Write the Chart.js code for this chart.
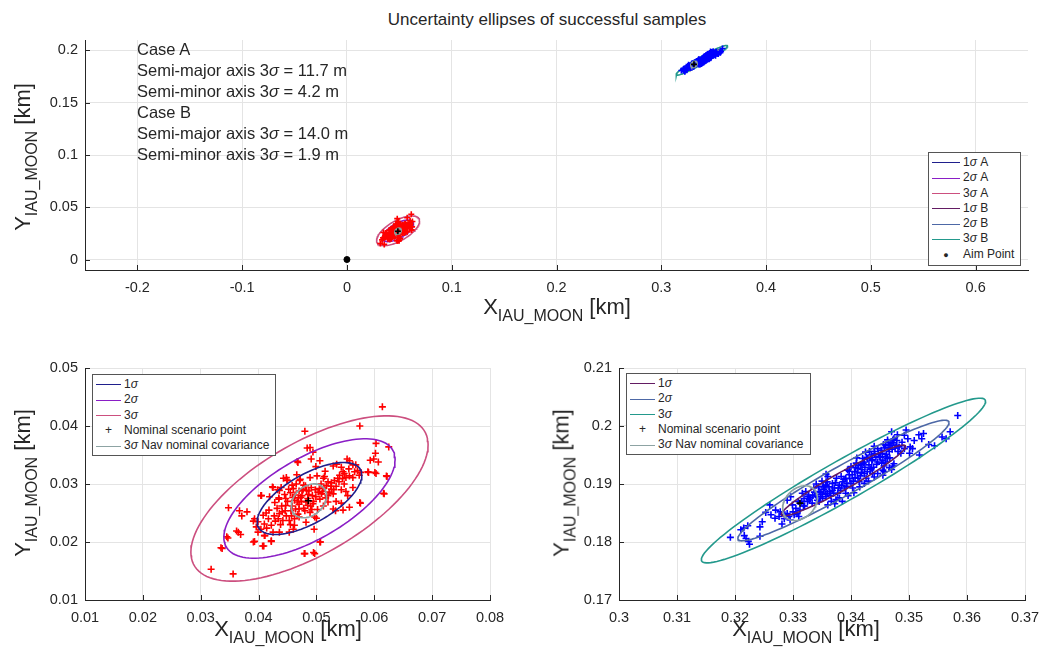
<!DOCTYPE html>
<html>
<head>
<meta charset="utf-8">
<script src="https://cdn.jsdelivr.net/npm/chart.js@4.4.1/dist/chart.umd.min.js"></script>
<style>
  body { margin: 0; background: #fff; font-family: 'Liberation Sans', Arial, sans-serif; color: #262626; }
  #page { position: relative; width: 1053px; height: 655px; overflow: hidden; }
  .box { position: absolute; }
  .title { position: absolute; left: 247px; width: 600px; top: 10px; text-align: center; font-size: 17px; }
  .xlab, .ylab { position: absolute; font-size: 22px; white-space: nowrap; line-height: 24px; }
  .xlab sub, .ylab sub { font-size: 16px; vertical-align: -7px; }
  .xlab { transform: translateX(-50%); }
  .ylab { transform: translate(-50%, -50%) rotate(-90deg); }
  .cases { position: absolute; left: 137px; top: 39px; font-size: 16.5px; line-height: 21px; }
  .legend { position: absolute; background: #fff; border: 1px solid #555; font-size: 12px; line-height: 15.3px; padding: 2px 4px 2px 3px; }
  .legend .row { white-space: nowrap; }
  .legend .sw { display: inline-block; vertical-align: middle; height: 0; border-top: 1.6px solid; margin-right: 3px; }
  .legend .mk { display: inline-block; text-align: center; margin-right: 3px; }
</style>
</head>
<body>
<div id="page">
  <div class="title">Uncertainty ellipses of successful samples</div>

  <div class="box" style="left:0;top:0;width:1053px;height:300px"><canvas id="top-chart"></canvas></div>
  <div class="box" style="left:0;top:340px;width:520px;height:315px"><canvas id="left-chart"></canvas></div>
  <div class="box" style="left:530px;top:340px;width:523px;height:315px"><canvas id="right-chart"></canvas></div>

  <div class="cases" id="cases"></div>

  <div class="xlab" style="left:557px;top:295px">X<sub>IAU_MOON</sub> [km]</div>
  <div class="ylab" style="left:27px;top:157px">Y<sub>IAU_MOON</sub> [km]</div>
  <div class="xlab" style="left:288px;top:617px">X<sub>IAU_MOON</sub> [km]</div>
  <div class="ylab" style="left:27px;top:483px">Y<sub>IAU_MOON</sub> [km]</div>
  <div class="xlab" style="left:806px;top:617px">X<sub>IAU_MOON</sub> [km]</div>
  <div class="ylab" style="left:566px;top:483px">Y<sub>IAU_MOON</sub> [km]</div>

  <div class="legend" id="legend-top" style="left:928px;top:152px;width:84px"></div>
  <div class="legend" id="legend-left" style="left:92px;top:374px;width:175px"></div>
  <div class="legend" id="legend-right" style="left:626px;top:373px;width:176px"></div>
</div>

<script>
// --- data ---

// case A (red samples)
const samplesA = [
  [0.0614,0.0433],[0.0575,0.0400],[0.0480,0.0391],[0.0603,0.0370],[0.0625,0.0364],[0.0484,0.0362],
  [0.0494,0.0355],[0.0491,0.0343],[0.0506,0.0340],[0.0499,0.0330],[0.0602,0.0353],[0.0607,0.0338],
  [0.0593,0.0341],[0.0599,0.0343],[0.0553,0.0343],[0.0557,0.0340],[0.0535,0.0334],[0.0529,0.0331],
  [0.0543,0.0329],[0.0546,0.0321],[0.0563,0.0333],[0.0571,0.0323],[0.0577,0.0320],[0.0574,0.0315],
  [0.0590,0.0320],[0.0603,0.0318],[0.0622,0.0313],[0.0551,0.0311],[0.0557,0.0314],[0.0563,0.0311],
  [0.0545,0.0309],[0.0539,0.0304],[0.0531,0.0306],[0.0526,0.0302],[0.0520,0.0304],[0.0517,0.0297],
  [0.0513,0.0293],[0.0526,0.0291],[0.0534,0.0296],[0.0543,0.0290],[0.0551,0.0287],[0.0554,0.0280],
  [0.0563,0.0294],[0.0471,0.0306],[0.0489,0.0311],[0.0501,0.0314],[0.0477,0.0291],[0.0483,0.0289],
  [0.0491,0.0294],[0.0503,0.0286],[0.0509,0.0283],[0.0520,0.0280],[0.0529,0.0283],[0.0534,0.0270],
  [0.0543,0.0267],[0.0557,0.0260],[0.0474,0.0270],[0.0482,0.0269],[0.0494,0.0266],[0.0506,0.0274],
  [0.0520,0.0269],[0.0529,0.0257],[0.0533,0.0254],[0.0546,0.0255],[0.0576,0.0267],[0.0617,0.0283],
  [0.0480,0.0254],[0.0489,0.0251],[0.0497,0.0243],[0.0500,0.0241],[0.0482,0.0234],[0.0496,0.0222],
  [0.0507,0.0200],[0.0480,0.0180],[0.0497,0.0180],
  [0.0468,0.0337],[0.0449,0.0307],[0.0425,0.0294],[0.0436,0.0289],[0.0405,0.0280],[0.0419,0.0278],
  [0.0435,0.0274],[0.0447,0.0263],[0.0456,0.0254],[0.0446,0.0254],[0.0436,0.0249],[0.0434,0.0240],
  [0.0442,0.0237],[0.0453,0.0237],[0.0462,0.0240],[0.0470,0.0243],[0.0393,0.0240],[0.0399,0.0235],
  [0.0410,0.0231],[0.0414,0.0224],[0.0425,0.0217],[0.0436,0.0217],[0.0422,0.0229],[0.0399,0.0217],
  [0.0410,0.0211],[0.0396,0.0226],[0.0393,0.0201],[0.0409,0.0193],[0.0422,0.0201],[0.0453,0.0217],
  [0.0462,0.0229],[0.0470,0.0257],[0.0467,0.0269],[0.0459,0.0277],[0.0473,0.0277],[0.0380,0.0252],
  [0.0367,0.0254],[0.0371,0.0245],[0.0348,0.0259],[0.0365,0.0217],[0.0369,0.0213],[0.0347,0.0207],
  [0.0337,0.0189],[0.0318,0.0153],[0.0356,0.0145],
  [0.0489,0.0363],[0.0467,0.0339],[0.0589,0.0321],[0.0601,0.0320],[0.0621,0.0314],[0.0616,0.0284],
  [0.0575,0.0268],[0.0404,0.0280],[0.0391,0.0236],[0.0362,0.0219],[0.0345,0.0209],[0.0391,0.0200],
  [0.0407,0.0193],[0.0422,0.0202],[0.0411,0.0211],[0.0335,0.0190],[0.0479,0.0180],[0.0495,0.0182],
  [0.0506,0.0200],[0.0443,0.0310],[0.0448,0.0311],[0.0450,0.0306],[0.0439,0.0294],[0.0433,0.0290],
  [0.0424,0.0295],[0.0435,0.0276],
  [0.0455,0.0285],[0.0460,0.0292],[0.0465,0.0300],[0.0470,0.0288],[0.0475,0.0280],[0.0462,0.0272],
  [0.0470,0.0265],[0.0478,0.0258],[0.0468,0.0248],[0.0458,0.0262],[0.0450,0.0270],[0.0485,0.0275],
  [0.0490,0.0262],[0.0495,0.0270],[0.0486,0.0282],[0.0478,0.0298],[0.0472,0.0308],[0.0466,0.0316],
  [0.0445,0.0282],[0.0440,0.0262],[0.0432,0.0258],[0.0428,0.0268],[0.0438,0.0230],[0.0448,0.0245],
  [0.0455,0.0230],[0.0460,0.0222],[0.0512,0.0310],[0.0515,0.0322],[0.0508,0.0300],[0.0498,0.0290],
  [0.0540,0.0315],[0.0548,0.0300],[0.0530,0.0290],[0.0512,0.0262],[0.0502,0.0256],[0.0418,0.0255],
  [0.0408,0.0246],[0.0427,0.0245],
  [0.0452,0.0291],[0.0458,0.0298],[0.0463,0.0281],[0.0469,0.0276],[0.0476,0.0289],[0.0481,0.0297],
  [0.0487,0.0288],[0.0493,0.0280],[0.0499,0.0278],[0.0505,0.0292],[0.0511,0.0287],[0.0516,0.0276],
  [0.0522,0.0286],[0.0525,0.0296],[0.0537,0.0310],[0.0548,0.0318],[0.0556,0.0326],[0.0566,0.0321],
  [0.0568,0.0333],[0.0514,0.0313],[0.0447,0.0275],[0.0441,0.0252],[0.0429,0.0236],[0.0417,0.0240],
  [0.0404,0.0222],[0.0413,0.0250],[0.0457,0.0245],[0.0464,0.0257],[0.0485,0.0263],[0.0492,0.0256],
];

// case B (blue samples)
const samplesB = [
  [0.3584,0.2018],[0.3571,0.1990],[0.3557,0.1981],[0.3564,0.1978],[0.3544,0.1966],[0.3534,0.1968],
  [0.3525,0.1987],[0.3517,0.1985],[0.3522,0.1978],[0.3495,0.1993],[0.3492,0.1984],[0.3498,0.1978],
  [0.3509,0.1975],[0.3518,0.1950],[0.3501,0.1953],[0.3506,0.1961],[0.3502,0.1964],[0.3472,0.1931],
  [0.3474,0.1935],[0.3457,0.1921],[0.3446,0.1918],[0.3455,0.1924],
  [0.3192,0.1808],[0.3210,0.1821],[0.3215,0.1824],[0.3222,0.1828],[0.3216,0.1811],[0.3219,0.1806],
  [0.3223,0.1801],[0.3225,0.1796],[0.3243,0.1810],[0.3243,0.1826],[0.3247,0.1835],[0.3260,0.1864],
  [0.3253,0.1851],[0.3262,0.1847],[0.3269,0.1841],[0.3276,0.1844],[0.3281,0.1831],[0.3270,0.1855],
  [0.3286,0.1847],[0.3290,0.1849],[0.3293,0.1844],[0.3299,0.1864],[0.3305,0.1858],[0.3307,0.1849],
  [0.3302,0.1847],[0.3310,0.1844],[0.3290,0.1872],[0.3296,0.1878],[0.3316,0.1884],[0.3322,0.1887],
  [0.3327,0.1881],[0.3336,0.1893],[0.3339,0.1881],[0.3319,0.1875],[0.3325,0.1870],[0.3333,0.1867],
  [0.3342,0.1872],[0.3347,0.1878],[0.3345,0.1887],[0.3353,0.1890],[0.3356,0.1898],[0.3359,0.1884],
  [0.3351,0.1875],[0.3357,0.1917],[0.3359,0.1904],
  [0.3374,0.1873],[0.3366,0.1870],[0.3360,0.1864],[0.3357,0.1878],[0.3363,0.1887],[0.3371,0.1893],
  [0.3380,0.1898],[0.3386,0.1904],[0.3391,0.1910],[0.3397,0.1916],[0.3406,0.1921],[0.3412,0.1927],
  [0.3417,0.1933],[0.3423,0.1938],[0.3429,0.1944],[0.3435,0.1950],[0.3440,0.1956],[0.3446,0.1938],
  [0.3435,0.1927],[0.3423,0.1918],[0.3412,0.1910],[0.3400,0.1901],[0.3389,0.1893],[0.3377,0.1884],
  [0.3368,0.1901],[0.3383,0.1913],[0.3394,0.1924],[0.3409,0.1936],[0.3420,0.1944],[0.3432,0.1956],
  [0.3380,0.1876],[0.3391,0.1884],[0.3403,0.1893],[0.3414,0.1904],[0.3426,0.1910],[0.3437,0.1918],
  [0.3423,0.1901],[0.3460,0.1938],[0.3463,0.1944],[0.3455,0.1941],[0.3449,0.1947],[0.3446,0.1961],
  [0.3452,0.1958],[0.3466,0.1956],[0.3460,0.1967],[0.3469,0.1970],[0.3463,0.1976],[0.3472,0.1976],
  [0.3478,0.1967],[0.3474,0.1978],[0.3483,0.1964],[0.3492,0.1961],[0.3486,0.1953],[0.3481,0.1956],
  [0.3457,0.1931],[0.3466,0.1928],[0.3357,0.1904],[0.3354,0.1893],[0.3360,0.1913],
  [0.3312,0.1855],[0.3320,0.1862],[0.3330,0.1876],[0.3345,0.1870],[0.3350,0.1882],[0.3365,0.1880],
  [0.3372,0.1866],[0.3385,0.1870],[0.3395,0.1880],[0.3405,0.1885],[0.3415,0.1895],[0.3430,0.1905],
  [0.3440,0.1912],[0.3455,0.1915],[0.3470,0.1925],[0.3300,0.1852],[0.3285,0.1840],[0.3295,0.1838],
  [0.3278,0.1852],[0.3315,0.1870],[0.3340,0.1900],[0.3350,0.1905],[0.3375,0.1910],[0.3400,0.1930],
  [0.3410,0.1945],[0.3425,0.1955],[0.3440,0.1965],[0.3480,0.1985],[0.3470,0.1990],[0.3488,0.1972],
  [0.3328,0.1873],[0.3334,0.1880],[0.3341,0.1878],[0.3348,0.1886],[0.3352,0.1896],[0.3362,0.1895],
  [0.3368,0.1889],[0.3373,0.1902],[0.3378,0.1893],[0.3384,0.1897],[0.3388,0.1908],[0.3393,0.1901],
  [0.3398,0.1909],[0.3402,0.1916],[0.3407,0.1911],[0.3411,0.1919],[0.3416,0.1914],[0.3419,0.1925],
  [0.3424,0.1929],[0.3428,0.1921],[0.3431,0.1933],[0.3436,0.1940],[0.3439,0.1929],[0.3443,0.1946],
  [0.3447,0.1952],[0.3451,0.1946],[0.3454,0.1953],[0.3458,0.1962],[0.3461,0.1951],[0.3464,0.1963],
  [0.3467,0.1967],[0.3471,0.1960],[0.3473,0.1971],[0.3476,0.1962],[0.3479,0.1975],[0.3467,0.1945],
  [0.3459,0.1947],[0.3444,0.1934],[0.3433,0.1925],[0.3418,0.1920],[0.3404,0.1905],[0.3392,0.1896],
  [0.3382,0.1889],[0.3370,0.1884],[0.3356,0.1883],[0.3344,0.1895],[0.3337,0.1886],[0.3326,0.1878],
  [0.3318,0.1862],[0.3309,0.1870],[0.3397,0.1922],[0.3413,0.1932],[0.3427,0.1946],[0.3441,0.1952],
  [0.3453,0.1936],[0.3437,0.1942],[0.3421,0.1936],[0.3408,0.1928],[0.3465,0.1972],[0.3456,0.1968],
];

const nominalA = [0.0486, 0.0271];
const nominalB = [0.3312, 0.1867];
const aimPoint = [0, 0];

// uncertainty ellipses: centre, half extent along x and y, x-y correlation
const sigmaLabels = ['1σ', '2σ', '3σ'];
const ellipseCenterA = [0.0488, 0.0275];
const ellipseHalfXA = [0.00905, 0.0148, 0.0205];
const ellipseHalfYA = [0.0062, 0.0103, 0.01425];
const ellipseRhoA = 0.65;
const ellipseCenterB = [0.3387, 0.1906];
const ellipseHalfXB = [0.0107, 0.0182, 0.0245];
const ellipseHalfYB = [0.0061, 0.0104, 0.0142];
const ellipseRhoB = 0.96;

// 3 sigma nav nominal covariance
const navCenterA = [0.0487, 0.0271];
const navHalfA = [0.00305, 0.00292];
const navCenterB = [0.3312, 0.1867];
const navHalfB = [0.0030, 0.0030];
const navRho = 0.3;

// text box numbers
const caseNames = ['Case A', 'Case B'];
const semiMajor3s = [11.7, 14.0];
const semiMinor3s = [4.2, 1.9];

// axes
const topXTicks = [-0.2, -0.1, 0, 0.1, 0.2, 0.3, 0.4, 0.5, 0.6];
const topYTicks = [0, 0.05, 0.1, 0.15, 0.2];
const leftXTicks = [0.01, 0.02, 0.03, 0.04, 0.05, 0.06, 0.07, 0.08];
const leftYTicks = [0.01, 0.02, 0.03, 0.04, 0.05];
const rightXTicks = [0.3, 0.31, 0.32, 0.33, 0.34, 0.35, 0.36, 0.37];
const rightYTicks = [0.17, 0.18, 0.19, 0.2, 0.21];

// --- styles ---
const TXT = '#262626';
const colorsA = ['#1f1f8c', '#8a1ec6', '#cc4f7f'];
const colorsB = ['#631c63', '#4d68a6', '#23998c'];
const navColor = '#8da3a3';
const FONT = "'Liberation Sans', Arial, sans-serif";

const pts = arr => arr.map(([x, y]) => ({ x, y }));

function ellipse(c, hx, hy, rho) {
  const out = [];
  const k = Math.sqrt(1 - rho * rho);
  for (let i = 0; i <= 120; i++) {
    const t = (i / 120) * 2 * Math.PI;
    out.push({ x: c[0] + hx * Math.cos(t), y: c[1] + hy * (rho * Math.cos(t) + k * Math.sin(t)) });
  }
  return out;
}

const line = (data, color) => ({
  data, borderColor: color, showLine: true, pointRadius: 0, borderWidth: 1.6, fill: false,
});
const marks = (data, color, r) => ({
  data, pointStyle: 'cross', pointRadius: r, borderColor: color, borderWidth: 1.6, showLine: false,
});

const ellA = sigmaLabels.map((s, i) => line(ellipse(ellipseCenterA, ellipseHalfXA[i], ellipseHalfYA[i], ellipseRhoA), colorsA[i]));
const ellB = sigmaLabels.map((s, i) => line(ellipse(ellipseCenterB, ellipseHalfXB[i], ellipseHalfYB[i], ellipseRhoB), colorsB[i]));
const navA = () => line(ellipse(navCenterA, navHalfA[0], navHalfA[1], navRho), navColor);
const navB = () => line(ellipse(navCenterB, navHalfB[0], navHalfB[1], navRho), navColor);

// ticks pointing into the plot, like the original
const inwardTicks = {
  id: 'inwardTicks',
  afterDatasetsDraw(chart) {
    const { ctx, chartArea: a, scales: { x, y } } = chart;
    ctx.save();
    ctx.strokeStyle = TXT;
    ctx.lineWidth = 1;
    ctx.beginPath();
    x.ticks.forEach(t => {
      const p = Math.round(x.getPixelForValue(t.value)) + 0.5;
      ctx.moveTo(p, a.bottom); ctx.lineTo(p, a.bottom - 5);
    });
    y.ticks.forEach(t => {
      const p = Math.round(y.getPixelForValue(t.value)) + 0.5;
      ctx.moveTo(a.left, p); ctx.lineTo(a.left + 5, p);
    });
    ctx.stroke();
    ctx.restore();
  },
};

function axis(min, max, ticks, fitSize, horizontal) {
  return {
    type: 'linear', min, max,
    afterBuildTicks: s => { s.ticks = ticks.map(v => ({ value: v })); },
    afterFit: s => { if (horizontal) s.height = fitSize; else s.width = fitSize; },
    grid: { color: '#e4e4e4', lineWidth: 1, drawTicks: false },
    border: { display: true, color: TXT, width: 1 },
    ticks: {
      color: TXT, font: { family: FONT, size: 14.5 }, padding: horizontal ? 9 : 7,
      callback: v => String(+v.toFixed(4)),
    },
  };
}

function makeChart(id, datasets, xs, ys, padding) {
  return new Chart(document.getElementById(id), {
    type: 'scatter',
    data: { datasets },
    options: {
      responsive: true, maintainAspectRatio: false, animation: false,
      layout: { padding },
      plugins: { legend: { display: false }, tooltip: { enabled: false } },
      scales: { x: xs, y: ys },
    },
    plugins: [inwardTicks],
  });
}

// top overview
makeChart('top-chart', [
  marks(pts([nominalA, nominalB]), '#000', 3),
  navA(), navB(),
  { data: pts([aimPoint]), pointStyle: 'circle', pointRadius: 3, backgroundColor: '#000', borderColor: '#000' },
  marks(pts(samplesA), '#ff0000', 3),
  marks(pts(samplesB), '#0000ff', 3),
  ...ellA, ...ellB,
], axis(-0.25, 0.65, topXTicks, 30, true), axis(-0.01, 0.21, topYTicks, 85, false),
{ top: 40, right: 25, left: 0, bottom: 0 });

// case A zoom
makeChart('left-chart', [
  marks(pts([nominalA]), '#000', 3.5),
  navA(), ...ellA,
  marks(pts(samplesA), '#ff0000', 3.5),
], axis(0.01, 0.08, leftXTicks, 55, true), axis(0.01, 0.05, leftYTicks, 85, false),
{ top: 28, right: 30, left: 0, bottom: 0 });

// case B zoom
makeChart('right-chart', [
  marks(pts([nominalB]), '#000', 3.5),
  navB(), ...ellB,
  marks(pts(samplesB), '#0000ff', 3.5),
], axis(0.3, 0.37, rightXTicks, 55, true), axis(0.17, 0.21, rightYTicks, 89, false),
{ top: 28, right: 28, left: 0, bottom: 0 });

// text box
const sig = s => s.replace('σ', '<i>σ</i>');
document.getElementById('cases').innerHTML = caseNames.map((n, i) =>
  `<div>${n}</div><div>Semi-major axis 3<i>σ</i> = ${semiMajor3s[i].toFixed(1)} m</div>` +
  `<div>Semi-minor axis 3<i>σ</i> = ${semiMinor3s[i].toFixed(1)} m</div>`).join('');

// legends
const swatch = (c, w) => `<span class="sw" style="width:${w}px;border-color:${c}"></span>`;
const mark = (ch, w, size) => `<span class="mk" style="width:${w}px;font-size:${size}px">${ch}</span>`;

document.getElementById('legend-top').innerHTML =
  sigmaLabels.map((s, i) => `<div class="row">${swatch(colorsA[i], 28)}${sig(s)} A</div>`).join('') +
  sigmaLabels.map((s, i) => `<div class="row">${swatch(colorsB[i], 28)}${sig(s)} B</div>`).join('') +
  `<div class="row">${mark('●', 28, 9)}Aim Point</div>`;

function sideLegend(id, colors) {
  document.getElementById(id).innerHTML =
    sigmaLabels.map((s, i) => `<div class="row">${swatch(colors[i], 25)}${sig(s)}</div>`).join('') +
    `<div class="row">${mark('+', 25, 12)}Nominal scenario point</div>` +
    `<div class="row">${swatch(navColor, 25)}3<i>σ</i> Nav nominal covariance</div>`;
}
sideLegend('legend-left', colorsA);
sideLegend('legend-right', colorsB);
</script>
</body>
</html>
